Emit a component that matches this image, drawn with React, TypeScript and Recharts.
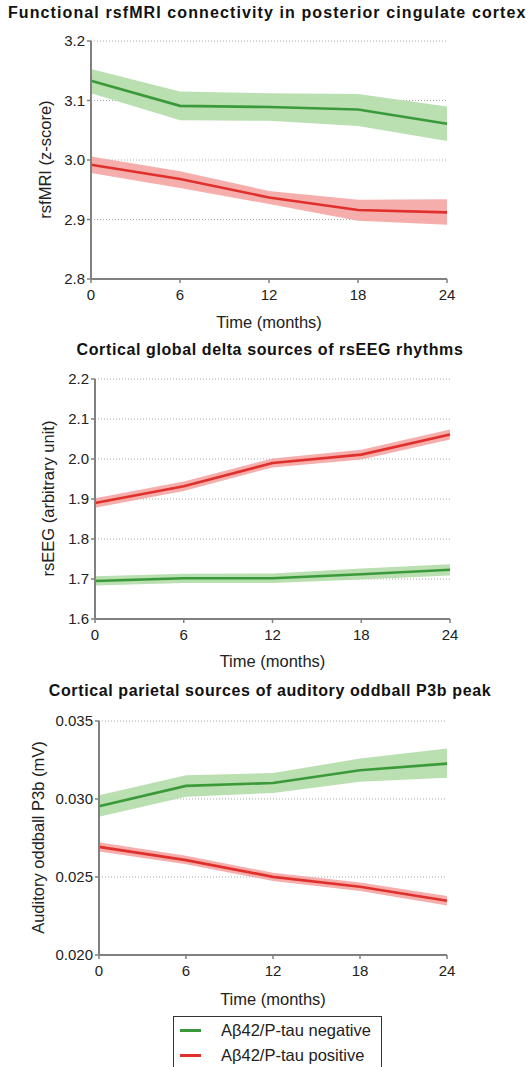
import React from "react";
import {
  Area,
  CartesianGrid,
  ComposedChart,
  Legend,
  Line,
  XAxis,
  YAxis,
} from "recharts";

const months = [0, 6, 12, 18, 24];

// rsfMRI (z-score)
const mriNegMean = [3.133, 3.091, 3.089, 3.085, 3.061];
const mriNegLow = [3.112, 3.067, 3.066, 3.057, 3.032];
const mriNegHigh = [3.153, 3.115, 3.112, 3.111, 3.09];
const mriPosMean = [2.992, 2.968, 2.937, 2.916, 2.912];
const mriPosLow = [2.978, 2.953, 2.926, 2.898, 2.891];
const mriPosHigh = [3.006, 2.981, 2.948, 2.933, 2.934];
const mriTicks = [2.8, 2.9, 3.0, 3.1, 3.2];

// rsEEG (arbitrary unit)
const eegNegMean = [1.695, 1.702, 1.702, 1.712, 1.723];
const eegNegLow = [1.684, 1.69, 1.69, 1.699, 1.709];
const eegNegHigh = [1.707, 1.713, 1.714, 1.726, 1.737];
const eegPosMean = [1.89, 1.932, 1.99, 2.011, 2.061];
const eegPosLow = [1.878, 1.92, 1.979, 1.999, 2.049];
const eegPosHigh = [1.902, 1.944, 2.001, 2.023, 2.074];
const eegTicks = [1.6, 1.7, 1.8, 1.9, 2.0, 2.1, 2.2];

// P3b (mV)
const p3bNegMean = [0.02954, 0.03084, 0.03103, 0.03184, 0.03227];
const p3bNegLow = [0.02886, 0.03014, 0.03039, 0.0311, 0.03137];
const p3bNegHigh = [0.03024, 0.03152, 0.03167, 0.03259, 0.03323];
const p3bPosMean = [0.02693, 0.02608, 0.02501, 0.02437, 0.02348];
const p3bPosLow = [0.02664, 0.02581, 0.02475, 0.02411, 0.02318];
const p3bPosHigh = [0.02722, 0.02636, 0.02527, 0.02465, 0.02378];
const p3bTicks = [0.02, 0.025, 0.03, 0.035];

const groupNames = ["Aβ42/P-tau negative", "Aβ42/P-tau positive"];

const GREEN = "#3a9a3a";
const GREEN_BAND = "#b3dba8";
const RED = "#e0302c";
const RED_BAND = "#f4a5a3";
const AXIS = "#808080";
const FONT = "'Liberation Sans', Arial, sans-serif";

function buildRows(
  negMean: number[],
  negLow: number[],
  negHigh: number[],
  posMean: number[],
  posLow: number[],
  posHigh: number[]
) {
  return months.map((m, i) => ({
    month: m,
    neg: negMean[i],
    negBand: [negLow[i], negHigh[i]],
    pos: posMean[i],
    posBand: [posLow[i], posHigh[i]],
  }));
}

type PanelProps = {
  top: number;
  height: number;
  title: string;
  titleY: number;
  titleLeft?: number;
  titleSpacing: number;
  yLabel: string;
  yLabelX: number;
  plot: { left: number; right: number; top: number; bottom: number };
  ticks: number[];
  digits: number;
  rows: ReturnType<typeof buildRows>;
  xLabelY: number;
  withLegend?: boolean;
};

function LegendBox() {
  return (
    <div
      style={{
        border: "1.5px solid #333",
        width: 209,
        height: 70,
        boxSizing: "border-box",
        padding: "1px 0 0 6px",
        fontFamily: FONT,
        fontSize: 16.5,
        color: "#222",
        background: "#fff",
      }}
    >
      {[GREEN, RED].map((c, i) => (
        <div
          key={i}
          style={{ display: "flex", alignItems: "center", height: 25 }}
        >
          <span
            style={{
              display: "inline-block",
              width: 21,
              height: 3,
              background: c,
              marginRight: 20,
            }}
          />
          <span>{groupNames[i]}</span>
        </div>
      ))}
    </div>
  );
}

function Panel(p: PanelProps) {
  const plotW = p.plot.right - p.plot.left;
  const plotH = p.plot.bottom - p.plot.top;
  return (
    <div
      style={{
        position: "absolute",
        top: p.top,
        left: 0,
        width: 528,
        height: p.height,
        fontFamily: FONT,
      }}
    >
      <div
        style={{
          position: "absolute",
          top: p.titleY - 10,
          left: p.titleLeft ?? 0,
          width: p.titleLeft !== undefined ? undefined : 540,
          textAlign: p.titleLeft !== undefined ? "left" : "center",
          fontWeight: "bold",
          fontSize: 16,
          letterSpacing: p.titleSpacing,
          color: "#111",
          whiteSpace: "nowrap",
        }}
      >
        {p.title}
      </div>
      <div
        style={{
          position: "absolute",
          top: p.xLabelY - 10,
          left: p.plot.left,
          width: plotW,
          textAlign: "center",
          fontSize: 16.5,
          color: "#222",
        }}
      >
        Time (months)
      </div>
      <div
        style={{
          position: "absolute",
          top: p.plot.top + plotH / 2 - 10,
          left: p.yLabelX - 150,
          width: 300,
          textAlign: "center",
          fontSize: 16.5,
          color: "#222",
          transform: "rotate(-90deg)",
          whiteSpace: "nowrap",
        }}
      >
        {p.yLabel}
      </div>
      <ComposedChart
        width={528}
        height={p.height}
        data={p.rows}
        margin={{ top: p.plot.top, right: 528 - p.plot.right, bottom: 0, left: 0 }}
        style={{ position: "absolute", top: 0, left: 0 }}
      >
        <CartesianGrid
          horizontal
          vertical={false}
          stroke="#a8a8a8"
          strokeDasharray="1 2"
        />
        <XAxis
          dataKey="month"
          type="number"
          domain={[0, 24]}
          ticks={months}
          height={p.height - p.plot.bottom}
          axisLine={{ stroke: AXIS, strokeWidth: 2 }}
          tickLine={{ stroke: AXIS, strokeWidth: 1.5 }}
          tickSize={4}
          tickMargin={6}
          tick={{ fill: "#222", fontSize: 15, fontFamily: FONT }}
        />
        <YAxis
          type="number"
          domain={[p.ticks[0], p.ticks[p.ticks.length - 1]]}
          ticks={p.ticks}
          width={p.plot.left}
          axisLine={{ stroke: AXIS, strokeWidth: 2 }}
          tickLine={{ stroke: AXIS, strokeWidth: 1.5 }}
          tickSize={4}
          tickMargin={2}
          tickFormatter={(v: number) => v.toFixed(p.digits)}
          tick={{ fill: "#222", fontSize: 15, fontFamily: FONT }}
        />
        <Area
          dataKey="negBand"
          stroke="none"
          fill={GREEN_BAND}
          fillOpacity={0.9}
          legendType="none"
          isAnimationActive={false}
        />
        <Area
          dataKey="posBand"
          stroke="none"
          fill={RED_BAND}
          fillOpacity={0.9}
          legendType="none"
          isAnimationActive={false}
        />
        <Line
          dataKey="neg"
          name={groupNames[0]}
          stroke={GREEN}
          strokeWidth={2.6}
          dot={false}
          isAnimationActive={false}
        />
        <Line
          dataKey="pos"
          name={groupNames[1]}
          stroke={RED}
          strokeWidth={2.6}
          dot={false}
          isAnimationActive={false}
        />
        {p.withLegend && (
          <Legend
            layout="horizontal"
            verticalAlign="middle"
            align="center"
            content={() => <LegendBox />}
            wrapperStyle={{ position: "absolute", left: 173, top: 336, width: 209 }}
          />
        )}
      </ComposedChart>
    </div>
  );
}

export default function App() {
  return (
    <div
      style={{
        position: "absolute",
        top: 0,
        left: 0,
        width: 528,
        height: 1067,
        background: "#fff",
        overflow: "hidden",
      }}
    >
      <Panel
        top={0}
        height={340}
        title="Functional rsfMRI connectivity in posterior cingulate cortex"
        titleY={14}
        titleLeft={8}
        titleSpacing={1.1}
        yLabel="rsfMRI (z-score)"
        yLabelX={45}
        plot={{ left: 91, right: 447, top: 41, bottom: 279 }}
        ticks={mriTicks}
        digits={1}
        rows={buildRows(mriNegMean, mriNegLow, mriNegHigh, mriPosMean, mriPosLow, mriPosHigh)}
        xLabelY={323}
      />
      <Panel
        top={340}
        height={340}
        title="Cortical global delta sources of rsEEG rhythms"
        titleY={11}
        titleSpacing={0.6}
        yLabel="rsEEG (arbitrary unit)"
        yLabelX={48}
        plot={{ left: 95, right: 450, top: 39, bottom: 279 }}
        ticks={eegTicks}
        digits={1}
        rows={buildRows(eegNegMean, eegNegLow, eegNegHigh, eegPosMean, eegPosLow, eegPosHigh)}
        xLabelY={322}
      />
      <Panel
        top={680}
        height={387}
        title="Cortical parietal sources of auditory oddball P3b peak"
        titleY={12}
        titleSpacing={0.6}
        yLabel="Auditory oddball P3b (mV)"
        yLabelX={38}
        plot={{ left: 99, right: 447, top: 41, bottom: 275 }}
        ticks={p3bTicks}
        digits={3}
        rows={buildRows(p3bNegMean, p3bNegLow, p3bNegHigh, p3bPosMean, p3bPosLow, p3bPosHigh)}
        xLabelY={320}
        withLegend
      />
    </div>
  );
}
